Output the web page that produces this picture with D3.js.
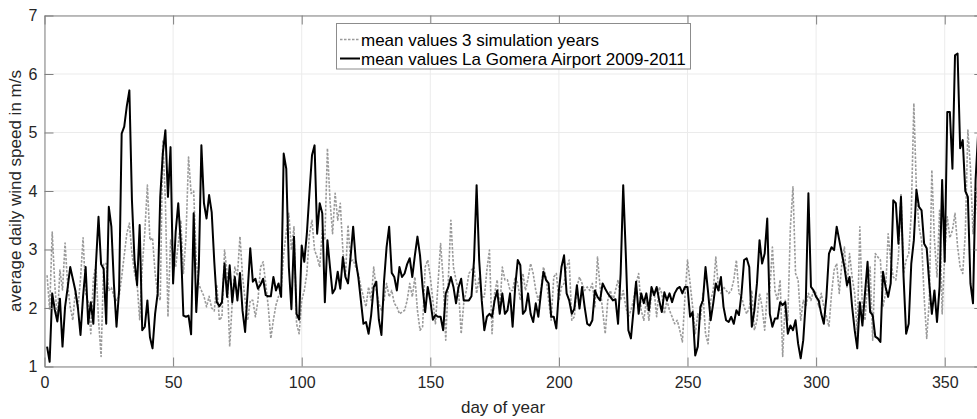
<!DOCTYPE html>
<html><head><meta charset="utf-8">
<script src="https://cdn.jsdelivr.net/npm/d3@7"></script>
<style>body{margin:0;background:#fff;}svg{display:block;font-family:"Liberation Sans",Arial,sans-serif;}</style>
</head><body>
<svg id="c" width="977" height="419"></svg>
<script>
const xTicks = [0,50,100,150,200,250,300,350];
const yTicks = [1,2,3,4,5,6,7];
const seriesNames = ["mean values 3 simulation years","mean values La Gomera Airport 2009-2011"];
const xLabel = "day of year";
const yLabel = "average daily wind speed in m/s";
// simulated mean values, days 1..363
const simulated = [2.56,1.97,3.3,2.4,1.8,2.65,2.31,3.11,2.4,2.02,1.79,2.3,2.0,2.5,3.2,2.25,2.1,1.56,2.5,2.73,
1.8,1.17,2.76,2.76,2.3,2.35,2.2,2.13,2.2,2.53,2.9,3.27,3.45,2.93,2.6,2.42,1.8,2.7,3.3,4.1,
3.16,3.2,2.6,2.25,2.13,4.87,3.84,1.85,3.16,2.9,2.7,3.1,3.5,2.59,3.2,4.58,3.96,4.0,2.82,2.4,
2.3,2.2,2.02,2.2,2.0,1.95,2.4,1.79,1.85,2.99,2.6,1.34,2.1,2.7,2.55,3.22,2.55,2.13,1.79,2.13,
2.13,1.85,2.13,2.7,2.79,2.42,2.02,1.48,1.8,2.05,2.2,2.3,2.93,3.3,3.62,2.99,3.39,1.73,1.56,2.13,
2.3,2.59,3.27,3.5,2.99,2.87,2.7,3.33,3.16,4.73,3.84,3.27,3.96,3.5,3.79,2.99,2.53,3.42,2.8,2.82,
2.7,2.59,2.36,2.19,2.02,2.36,2.13,2.7,2.3,2.08,1.96,2.13,2.42,2.19,2.3,2.08,2.02,1.9,1.93,1.96,
2.13,2.42,2.19,2.53,1.96,1.62,1.68,2.7,2.82,2.53,2.13,1.73,2.42,3.1,2.5,1.45,2.48,3.5,2.7,2.48,
2.3,1.56,2.08,2.3,2.59,2.65,2.7,2.25,2.53,2.19,2.19,2.65,2.99,1.56,2.25,2.48,1.96,2.7,2.48,2.48,
2.3,2.3,2.53,2.42,2.13,2.59,2.3,2.5,2.76,2.59,2.3,2.13,2.3,2.7,2.53,2.13,1.79,2.53,2.59,2.13,
2.36,2.42,2.7,2.82,1.79,1.85,2.36,2.53,2.42,2.3,2.36,2.3,2.42,2.02,2.87,2.36,1.96,1.56,2.13,2.3,
2.13,2.3,2.48,2.13,2.3,2.02,1.85,1.96,2.13,2.42,2.59,1.96,1.79,2.13,1.79,2.25,2.3,1.85,2.36,2.25,
1.9,2.13,1.96,1.85,1.73,1.79,1.62,1.42,2.19,2.82,2.42,2.02,1.56,1.9,1.79,2.25,1.56,1.39,2.13,2.3,
2.87,2.36,2.25,2.36,2.3,2.25,2.3,2.48,2.82,2.25,2.19,2.02,1.9,2.0,2.3,1.62,1.79,2.25,2.02,1.62,
2.25,2.3,3.04,2.3,2.13,2.48,1.17,2.13,1.79,3.39,4.07,2.59,2.48,1.79,2.13,2.02,2.25,2.13,2.3,2.25,
2.02,2.25,2.02,1.85,1.68,2.25,2.65,2.76,2.25,2.76,3.04,2.36,2.93,2.53,2.25,1.56,3.39,1.96,1.79,2.42,
2.7,1.45,2.93,2.87,2.82,2.02,2.25,3.27,2.82,2.53,2.48,2.87,3.96,2.59,2.82,2.93,3.62,5.5,4.0,3.39,
3.16,2.19,1.48,2.13,4.36,3.16,2.53,3.67,1.9,2.93,3.56,3.2,3.33,3.62,3.05,2.7,2.59,3.27,5.04,4.4,
3.27,4.07,3.5];
// observed mean values, days 1..363
const observed = [1.34,1.08,2.25,1.97,1.77,2.16,1.34,2.02,2.35,2.7,2.5,2.3,2.0,1.54,2.2,2.7,1.73,2.1,1.73,2.75,
3.56,2.75,2.67,1.73,3.73,3.39,2.4,1.68,2.3,4.98,5.1,5.45,5.72,3.84,2.82,2.39,3.42,1.62,1.68,2.13,
1.5,1.31,1.9,2.25,3.9,4.64,5.04,3.9,4.75,2.42,3.3,3.79,3.1,1.87,1.85,1.87,1.55,3.62,1.93,2.7,
4.78,3.79,3.53,3.93,3.64,2.8,2.1,2.03,2.1,2.76,2.19,2.73,2.1,2.53,2.13,2.6,1.95,1.59,2.3,3.02,
2.45,2.5,2.33,2.4,2.5,2.22,2.2,2.2,2.53,2.3,2.42,2.19,4.64,4.38,2.7,1.98,3.22,1.9,1.8,3.07,
2.79,3.27,3.96,4.61,4.78,3.27,3.79,3.62,2.1,3.16,2.7,2.25,2.33,2.62,2.33,2.87,2.53,2.42,2.87,3.39,
2.82,2.53,2.13,1.73,1.76,1.56,1.88,2.36,2.45,1.8,1.54,2.45,3.04,3.39,2.6,2.53,2.3,2.7,2.53,2.59,
2.75,2.85,2.53,2.9,3.22,2.9,2.36,1.93,2.36,2.13,1.8,1.88,1.85,1.85,1.62,2.25,2.36,2.53,2.36,2.08,
2.36,2.5,2.13,2.13,2.13,2.2,2.82,4.1,2.82,2.13,1.62,1.85,1.9,1.85,2.13,2.3,1.9,2.25,1.9,1.96,
2.25,1.68,2.36,2.82,2.73,1.9,1.96,2.25,1.9,1.76,2.08,1.85,2.25,2.62,2.48,2.42,1.85,1.85,1.65,2.3,
2.7,2.9,2.25,2.13,1.9,1.99,2.39,1.99,2.36,2.02,1.73,1.7,1.79,2.3,2.19,2.13,2.42,2.33,2.25,2.19,
2.13,2.15,1.73,2.59,4.1,2.93,1.62,1.48,1.96,2.45,1.9,2.25,2.08,2.25,1.96,2.36,2.22,2.36,2.13,1.93,
2.27,2.13,2.25,2.1,2.25,2.33,2.36,2.25,2.36,2.36,1.85,1.93,1.19,1.34,2.02,2.13,2.7,2.27,1.79,2.08,
2.42,2.3,2.53,2.02,1.79,1.76,1.85,1.73,1.96,1.88,2.25,2.82,2.85,2.7,1.68,1.96,2.42,3.16,2.76,2.93,
3.53,1.9,1.68,1.82,1.82,2.1,2.05,2.1,1.56,1.7,1.62,1.79,1.39,1.14,1.45,2.13,3.96,2.36,2.3,2.19,
2.13,1.9,1.73,2.19,2.93,3.04,2.99,3.39,3.16,2.93,2.7,2.39,2.53,2.02,1.62,1.31,2.1,1.7,2.25,2.79,
1.93,1.88,1.51,1.48,1.42,2.62,2.36,2.19,2.42,3.84,3.79,3.1,3.9,2.53,1.56,1.73,2.76,3.16,4.02,3.73,
3.67,3.1,3.02,2.42,1.9,2.3,1.76,2.36,4.19,2.79,5.35,5.35,4.38,6.32,6.35,4.73,4.87,4.0,3.9,2.42,
2.08,4.19,5.0];

const svg = d3.select("#c");
const L = 44.5, T = 15.5, B = 366.5, R = 983.3;
const x = d3.scaleLinear().domain([0,365]).range([L,R]);
const y = d3.scaleLinear().domain([1,7]).range([B,T]);
const txt = "#262626", axc = "#808080";

svg.append("defs").append("clipPath").attr("id","clip")
  .append("rect").attr("x",L).attr("y",T).attr("width",R-L).attr("height",B-T);

// grid
const grid = svg.append("g");
grid.selectAll(".gx").data(xTicks).join("line")
  .attr("x1",d=>x(d)).attr("x2",d=>x(d)).attr("y1",T).attr("y2",B)
  .attr("stroke","#ebebeb").attr("stroke-width",1);
grid.selectAll(".gy").data(yTicks).join("line")
  .attr("x1",L).attr("x2",R).attr("y1",d=>y(d)).attr("y2",d=>y(d))
  .attr("stroke","#ebebeb").attr("stroke-width",1);

// lines
const lineGen = d3.line().x((d,i)=>x(i+1)).y(d=>y(d));
const plot = svg.append("g").attr("clip-path","url(#clip)");
plot.append("path").datum(simulated).attr("d",lineGen)
  .attr("fill","none").attr("stroke","#9a9a9a").attr("stroke-width",1.6)
  .attr("stroke-dasharray","2.5,1.5").attr("stroke-linejoin","round");
plot.append("path").datum(observed).attr("d",lineGen)
  .attr("fill","none").attr("stroke","#000").attr("stroke-width",2).attr("stroke-linejoin","round");

// axes (inward ticks)
const fmt = d3.format("d");
function styleAxis(g){
  g.select(".domain").attr("stroke",axc);
  g.selectAll(".tick line").attr("stroke",axc);
  g.selectAll(".tick text").attr("fill",txt).style("font-size","16px").style("font-family","'Liberation Sans',Arial,sans-serif");
}
svg.append("g").attr("transform",`translate(0,${B})`)
  .call(d3.axisBottom(x).tickValues(xTicks).tickFormat(fmt).tickSize(-9).tickSizeOuter(0).tickPadding(10))
  .call(styleAxis);
svg.append("g").attr("transform",`translate(0,${T})`)
  .call(d3.axisTop(x).tickValues(xTicks).tickSize(-9).tickSizeOuter(0).tickFormat(""))
  .call(styleAxis);
svg.append("g").attr("transform",`translate(${L},0)`)
  .call(d3.axisLeft(y).tickValues(yTicks).tickFormat(fmt).tickSize(-9).tickSizeOuter(0).tickPadding(7))
  .call(styleAxis);
svg.append("g").attr("transform",`translate(${R},0)`)
  .call(d3.axisRight(y).tickValues(yTicks).tickSize(-9).tickSizeOuter(0).tickFormat(""))
  .call(styleAxis);

// axis labels
svg.append("text").attr("x",503).attr("y",413)
  .attr("text-anchor","middle").attr("fill",txt).style("font-size","17px").text(xLabel);
svg.append("text").attr("transform",`translate(21,${(T+B)/2}) rotate(-90)`)
  .attr("text-anchor","middle").attr("fill",txt).style("font-size","17px").text(yLabel);

// legend
const lg = svg.append("g");
lg.append("rect").attr("x",336.5).attr("y",23.5).attr("width",354).attr("height",45.5)
  .attr("fill","#fff").attr("stroke","#8c8c8c").attr("stroke-width",1);
const styles = [{c:"#9a9a9a",w:1.6,d:"2.5,1.5"},{c:"#000",w:2,d:null}];
seriesNames.forEach((n,i)=>{
  const yy = 39.5 + i*19;
  lg.append("line").attr("x1",340).attr("x2",360).attr("y1",yy).attr("y2",yy)
    .attr("stroke",styles[i].c).attr("stroke-width",styles[i].w)
    .attr("stroke-dasharray",styles[i].d);
  lg.append("text").attr("x",361).attr("y",yy+6).attr("fill","#000")
    .style("font-size","17px").text(n);
});
</script>
</body></html>
